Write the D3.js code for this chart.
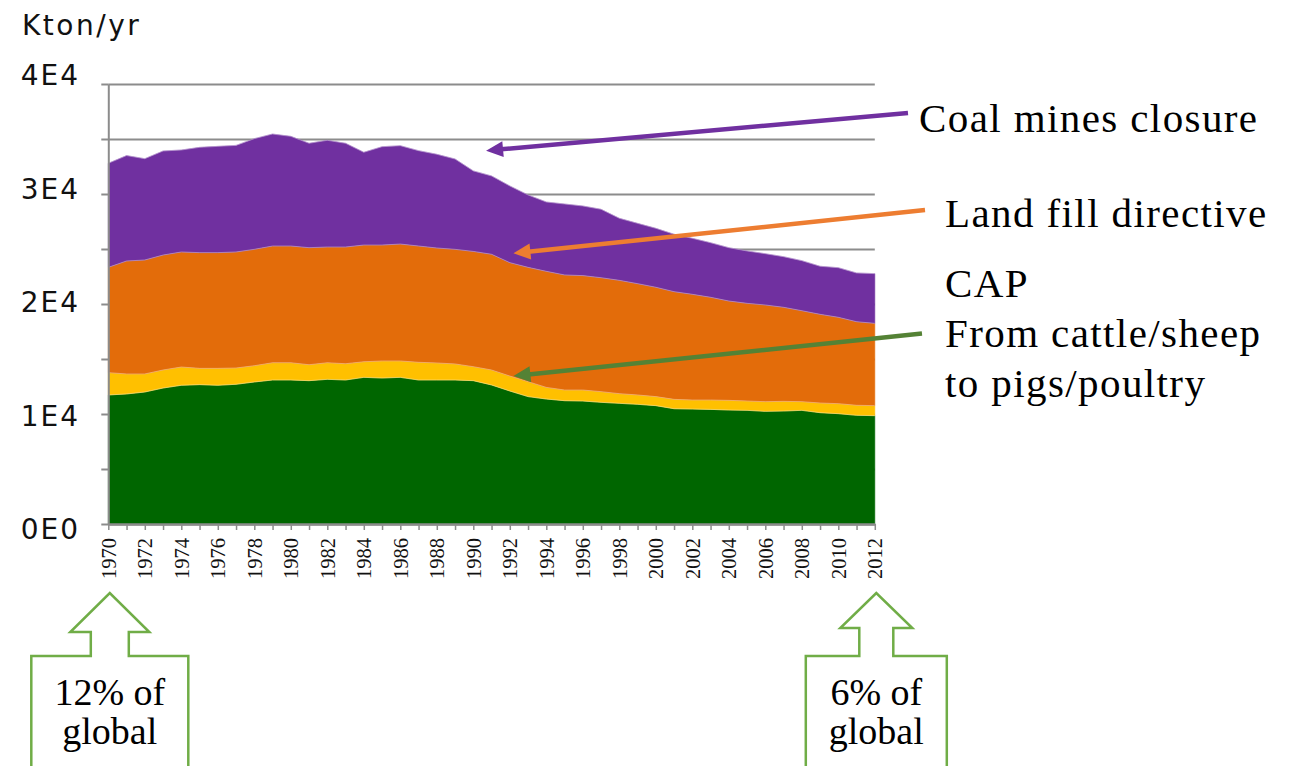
<!DOCTYPE html>
<html>
<head>
<meta charset="utf-8">
<script src="https://cdn.jsdelivr.net/npm/d3@7"></script>
<style>
  body { margin: 0; background: #fff; }
  svg { display: block; }
</style>
</head>
<body>
<svg id="chart" width="1301" height="766"></svg>
<script>
// Methane emissions by source, Kton per year
const years = [1970, 1971, 1972, 1973, 1974, 1975, 1976, 1977, 1978, 1979,
               1980, 1981, 1982, 1983, 1984, 1985, 1986, 1987, 1988, 1989,
               1990, 1991, 1992, 1993, 1994, 1995, 1996, 1997, 1998, 1999,
               2000, 2001, 2002, 2003, 2004, 2005, 2006, 2007, 2008, 2009,
               2010, 2011, 2012];

// Livestock (enteric fermentation)
const livestock = [11730, 11820, 12000, 12360, 12610, 12670, 12610, 12700, 12910, 13090,
                   13090, 13030, 13150, 13090, 13330, 13270, 13330, 13090, 13090, 13090,
                   13030, 12640, 12090, 11580, 11360, 11210, 11180, 11060, 10970, 10880,
                   10760, 10480, 10450, 10420, 10360, 10330, 10240, 10270, 10330, 10120,
                   10030, 9880, 9850];

// Manure management
const manure = [2030, 1820, 1640, 1640, 1660, 1480, 1540, 1480, 1480, 1570,
                1570, 1450, 1510, 1480, 1420, 1550, 1490, 1610, 1550, 1460,
                1270, 1360, 1360, 1360, 1060, 970, 1000, 970, 880, 850,
                820, 850, 820, 850, 880, 850, 880, 880, 790, 880,
                910, 910, 910];

// Waste and landfills
const waste = [9570, 10270, 10360, 10450, 10460, 10520, 10520, 10550, 10580, 10610,
               10610, 10640, 10520, 10610, 10610, 10540, 10630, 10570, 10450, 10420,
               10480, 10520, 10310, 10390, 10550, 10460, 10400, 10360, 10300, 10120,
               9940, 9790, 9610, 9340, 9030, 8880, 8790, 8550, 8270, 8060,
               7850, 7600, 7480];

// Fossil fuels (coal mining)
const coal = [9460, 9580, 9210, 9460, 9270, 9570, 9660, 9690, 10060, 10180,
              9970, 9490, 9700, 9430, 8430, 8940, 8940, 8670, 8520, 8210,
              7320, 7120, 6970, 6580, 6300, 6450, 6330, 6220, 5640, 5480,
              5360, 5220, 5090, 4960, 4850, 4760, 4660, 4600, 4550, 4370,
              4510, 4430, 4520];

const seriesKeys = ["livestock", "manure", "waste", "coal"];
const seriesColors = ["#006600", "#FFC000", "#E36C0A", "#7030A0"];

const yTickValues = [0, 10000, 20000, 30000, 40000];
const yTickLabels = ["0E0", "1E4", "2E4", "3E4", "4E4"];
const gridValues = [0, 5000, 10000, 15000, 20000, 25000, 30000, 35000, 40000];

// Annotation arrows: text on the right, arrow tip pointing at a (year, value) spot
const notes = [
  { lines: ["Coal mines closure"], tx: 919, ty: 132, from: [908, 113], tipYear: 1990.7, tipValue: 33940, color: "#7030A0" },
  { lines: ["Land fill directive"], tx: 945, ty: 227, from: [925, 210], tipYear: 1992.2, tipValue: 24610, color: "#ED7D31" },
  { lines: ["CAP", "From cattle/sheep", "to pigs/poultry"], tx: 945, ty: 297, from: [922, 333.5], tipYear: 1992.2, tipValue: 13450, color: "#548235" }
];

// Share-of-global callouts under the first and last year
const callouts = [
  { year: 1970, lines: ["12% of", "global"], boxW: 157, headW: 79, stemW: 38, headBase: 632 },
  { year: 2012, lines: ["6% of", "global"], boxW: 141, headW: 72, stemW: 34, headBase: 628 }
];

const table = years.map((yr, i) => ({
  year: yr,
  livestock: livestock[i],
  manure: manure[i],
  waste: waste[i],
  coal: coal[i]
}));

const svg = d3.select("#chart");

const x = d3.scaleLinear().domain([1970, 2012]).range([108.3, 874.8]);
const y = d3.scaleLinear().domain([0, 40000]).range([524, 84]);
const yLabelPos = d3.scaleLinear().domain([0, 40000]).range([529, 75]);

const axisColor = "#8c8c8c";

// Horizontal gridlines with the small ticks on the left
const grid = svg.append("g")
  .attr("transform", `translate(${x(1970)},0)`)
  .call(d3.axisLeft(y).tickValues(gridValues).tickSize(-(x(2012) - x(1970))).tickFormat(""));
grid.select(".domain").remove();
grid.selectAll(".tick line").attr("stroke", axisColor).attr("stroke-width", 2);

// Stacked areas
const stacked = d3.stack().keys(seriesKeys)(table);
const area = d3.area()
  .x(d => x(d.data.year))
  .y0(d => y(d[0]))
  .y1(d => y(d[1]));
const topLine = d3.line()
  .x(d => x(d.data.year))
  .y(d => y(d[1]));

svg.append("g").selectAll("path")
  .data(stacked)
  .join("path")
  .attr("d", area)
  .attr("fill", (d, i) => seriesColors[i])
  .attr("stroke", (d, i) => seriesColors[i])
  .attr("stroke-width", 0.6);

svg.append("g").selectAll("path")
  .data(stacked)
  .join("path")
  .attr("d", topLine)
  .attr("fill", "none")
  .attr("stroke", "#ffffff")
  .attr("stroke-opacity", 0.35)
  .attr("stroke-width", 1);

// Left axis line and ticks on top of the areas
svg.append("g")
  .attr("transform", `translate(${x(1970)},0)`)
  .call(d3.axisLeft(y).tickValues(gridValues).tickSize(7).tickSizeOuter(0).tickFormat(""))
  .call(g => g.selectAll("line, path").attr("stroke", axisColor).attr("stroke-width", 2));

// Y tick labels
svg.append("g").selectAll("text")
  .data(yTickValues)
  .join("text")
  .attr("x", 80)
  .attr("y", d => yLabelPos(d))
  .attr("dy", "0.36em")
  .attr("text-anchor", "end")
  .attr("font-family", "'DejaVu Sans', sans-serif")
  .attr("font-size", 28)
  .attr("letter-spacing", 2)
  .attr("fill", "#111")
  .text((d, i) => yTickLabels[i]);

svg.append("text")
  .attr("x", 22)
  .attr("y", 35)
  .attr("font-family", "'DejaVu Sans', sans-serif")
  .attr("font-size", 28)
  .attr("letter-spacing", 2.5)
  .attr("fill", "#111")
  .text("Kton/yr");

// Bottom axis: a tick every year, a label every two years
const xAxis = svg.append("g")
  .attr("transform", `translate(0,${y(0)})`)
  .call(d3.axisBottom(x).tickValues(years).tickSize(6).tickSizeOuter(0)
    .tickFormat(d => (d % 2 === 0 ? String(d) : "")));
xAxis.select(".domain").attr("stroke", axisColor).attr("stroke-width", 2.5);
xAxis.selectAll(".tick line").attr("stroke", axisColor).attr("stroke-width", 1.5);
xAxis.selectAll(".tick text")
  .attr("transform", "rotate(-90)")
  .attr("x", -14)
  .attr("y", 0)
  .attr("dy", "0.35em")
  .attr("text-anchor", "end")
  .attr("font-family", "'Liberation Serif', 'Times New Roman', serif")
  .attr("font-size", 20.5)
  .attr("fill", "#111");

// Annotation arrows and their captions
function drawArrow(g, x1, y1, x2, y2, color) {
  const ang = Math.atan2(y2 - y1, x2 - x1);
  const len = 17, half = 8;
  const bx = x2 - len * Math.cos(ang), by = y2 - len * Math.sin(ang);
  g.append("line")
    .attr("x1", x1).attr("y1", y1)
    .attr("x2", bx + 2 * Math.cos(ang)).attr("y2", by + 2 * Math.sin(ang))
    .attr("stroke", color).attr("stroke-width", 4.5);
  const nx = -Math.sin(ang), ny = Math.cos(ang);
  g.append("polygon")
    .attr("points", [[x2, y2], [bx + half * nx, by + half * ny], [bx - half * nx, by - half * ny]]
      .map(p => p.join(",")).join(" "))
    .attr("fill", color);
}

const noteLayer = svg.append("g");
notes.forEach(n => {
  drawArrow(noteLayer, n.from[0], n.from[1], x(n.tipYear), y(n.tipValue), n.color);
  n.lines.forEach((line, i) => {
    noteLayer.append("text")
      .attr("x", n.tx)
      .attr("y", n.ty + i * 50)
      .attr("font-family", "'Liberation Serif', 'Times New Roman', serif")
      .attr("font-size", 41)
      .attr("letter-spacing", 1.4)
      .attr("fill", "#000")
      .text(line);
  });
});

// Upward arrow callouts under the axis
const tipY = 593, boxTop = 656, boxBottom = 790;
const calloutLayer = svg.append("g");
callouts.forEach(c => {
  const cx = x(c.year) + 1.5;
  const pts = [
    [cx - c.boxW / 2, boxBottom],
    [cx - c.boxW / 2, boxTop],
    [cx - c.stemW / 2, boxTop],
    [cx - c.stemW / 2, c.headBase],
    [cx - c.headW / 2, c.headBase],
    [cx, tipY],
    [cx + c.headW / 2, c.headBase],
    [cx + c.stemW / 2, c.headBase],
    [cx + c.stemW / 2, boxTop],
    [cx + c.boxW / 2, boxTop],
    [cx + c.boxW / 2, boxBottom]
  ];
  calloutLayer.append("path")
    .attr("d", d3.line()(pts))
    .attr("fill", "#fff")
    .attr("stroke", "#70AD47")
    .attr("stroke-width", 2.5);
  c.lines.forEach((line, i) => {
    calloutLayer.append("text")
      .attr("x", cx)
      .attr("y", 705 + i * 39)
      .attr("text-anchor", "middle")
      .attr("font-family", "'Liberation Serif', 'Times New Roman', serif")
      .attr("font-size", 38)
      .attr("fill", "#000")
      .text(line);
  });
});
</script>
</body>
</html>
